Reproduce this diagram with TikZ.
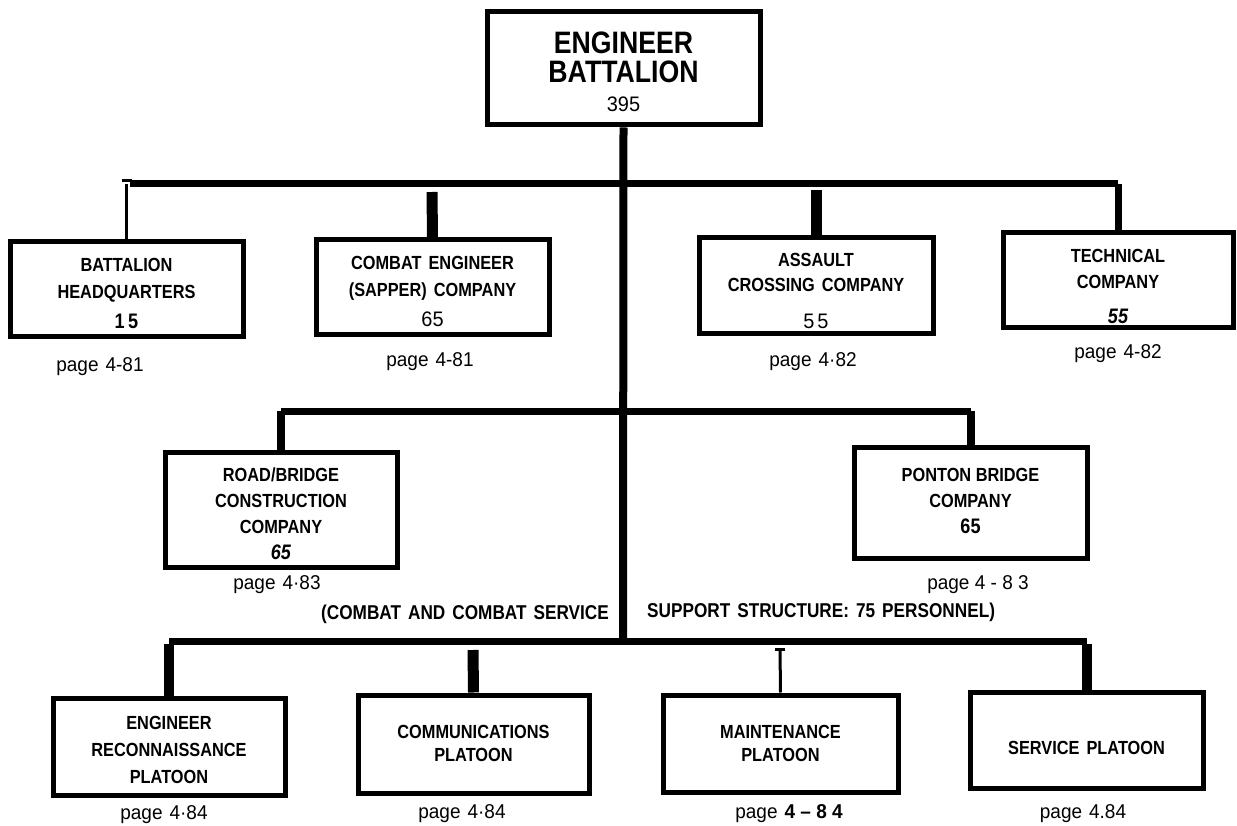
\documentclass[tikz,border=0pt]{standalone}
\usepackage{fontspec}
\setmainfont{Liberation Sans}
\newfontfamily\bx[FakeStretch=0.86]{Liberation Sans}
\newfontfamily\pg[FakeStretch=0.95]{Liberation Sans}
\tikzset{
  orgbox/.style={draw, line width=5pt, inner sep=0pt},
  boxtxt/.style={inner sep=0pt, align=center, font=\bx\bfseries\fontsize{19}{27}\selectfont},
  toptxt/.style={inner sep=0pt, align=center, font=\bx\bfseries\fontsize{31}{29}\selectfont},
  pagelbl/.style={inner sep=0pt, anchor=base, font=\pg\fontsize{20}{22}\selectfont},
  captxt/.style={inner sep=0pt, anchor=base, font=\bx\bfseries\fontsize{20}{24}\selectfont},
  bus/.style={line width=7pt},
  mainstem/.style={line width=8pt},
  drop/.style={line width=8pt},
  thickstem/.style={line width=11pt},
  thinstem/.style={line width=3pt},
  serif/.style={line width=3pt},
}
\newcommand\wsp{\hspace{7pt}}
\begin{document}
\begin{tikzpicture}[x=1pt,y=-1pt]
\path[use as bounding box] (0,0) rectangle (1237,826);

% boxes
\node[orgbox, minimum width=273, minimum height=113] (eb) at (623.5,68.5) {};
\node[orgbox, minimum width=233, minimum height=95] (bhq) at (126.5,289.5) {};
\node[orgbox, minimum width=233, minimum height=95] (ce) at (432.5,287.5) {};
\node[orgbox, minimum width=234, minimum height=96] (ac) at (816,286) {};
\node[orgbox, minimum width=230, minimum height=95] (tc) at (1118,280.5) {};
\node[orgbox, minimum width=232, minimum height=115] (rb) at (281,509.5) {};
\node[orgbox, minimum width=233, minimum height=111] (pb) at (970.5,502.5) {};
\node[orgbox, minimum width=232, minimum height=97] (er) at (169,746.5) {};
\node[orgbox, minimum width=231, minimum height=98] (cm) at (473.5,744) {};
\node[orgbox, minimum width=235, minimum height=97] (mt) at (780.5,743.5) {};
\node[orgbox, minimum width=233, minimum height=96] (sv) at (1086.5,740) {};

% box texts
\node[toptxt] (eb-t) at (623.5,72) {ENGINEER\\BATTALION\\\mdseries\pg\fontsize{21}{29}\selectfont 395};
\node[boxtxt] (bhq-t) at (126.5,293.5) {BATTALION\\HEADQUARTERS\\[3pt]\fontsize{21}{27}\selectfont 1\,5};
\node[boxtxt] (ce-t) at (432.5,291.5) {COMBAT\wsp ENGINEER\\(SAPPER)\wsp COMPANY\\[3pt]\mdseries\pg\fontsize{21}{27}\selectfont 65};
\node[boxtxt, font=\bx\bfseries\fontsize{19}{25}\selectfont] (ac-t) at (816,291.3) {ASSAULT\\CROSSING\wsp COMPANY\\[12pt]\mdseries\pg\fontsize{21}{25}\selectfont 5\kern3pt 5};
\node[boxtxt, font=\bx\bfseries\fontsize{19}{26}\selectfont] (tc-t) at (1118,286.9) {TECHNICAL\\COMPANY\\[9pt]\itshape\fontsize{21}{26}\selectfont 55};
\node[boxtxt, font=\bx\bfseries\fontsize{19}{26}\selectfont] (rb-t) at (281,513.5) {ROAD/BRIDGE\\CONSTRUCTION\\COMPANY\\\itshape\fontsize{21}{26}\selectfont 65};
\node[boxtxt, font=\bx\bfseries\fontsize{19}{26}\selectfont] (pb-t) at (970.5,501) {PONTON BRIDGE\\COMPANY\\\fontsize{21}{26}\selectfont 65};
\node[boxtxt] (er-t) at (169,750) {ENGINEER\\RECONNAISSANCE\\PLATOON};
\node[boxtxt, font=\bx\bfseries\fontsize{19}{23}\selectfont] (cm-t) at (473.5,743.5) {COMMUNICATIONS\\PLATOON};
\node[boxtxt, font=\bx\bfseries\fontsize{19}{23}\selectfont] (mt-t) at (780.5,743.5) {MAINTENANCE\\PLATOON};
\node[boxtxt] (sv-t) at (1086.5,748) {SERVICE\wsp PLATOON};

% page labels
\node[pagelbl] (bhq-p) at (100,371.8) {page\wsp 4-81};
\node[pagelbl] (ce-p) at (430,366.8) {page\wsp 4-81};
\node[pagelbl] (ac-p) at (813,366.8) {page\wsp 4·82};
\node[pagelbl] (tc-p) at (1118,359) {page\wsp 4-82};
\node[pagelbl] (rb-p) at (277,589.8) {page\wsp 4·83};
\node[pagelbl] (pb-p) at (978,589.8) {page 4 - 8 3};
\node[pagelbl] (er-p) at (164,819.8) {page\wsp 4·84};
\node[pagelbl] (cm-p) at (462,818.8) {page\wsp 4·84};
\node[pagelbl] (mt-p) at (789,818.8) {page\wsp\textbf{4 – 8 4}};
\node[pagelbl] (sv-p) at (1083,818.8) {page\wsp 4.84};

% caption
\node[captxt, anchor=base east] (cap1) at (609,619) {(COMBAT\wsp AND\wsp COMBAT\wsp SERVICE};
\node[captxt, anchor=base west] (cap2) at (647,617) {SUPPORT\wsp STRUCTURE:\wsp 75\wsp PERSONNEL)};

% named bus points
\coordinate (busTop) at (623,184);
\coordinate (busMid) at (623,411);
\coordinate (busBot) at (623,641);
\coordinate (ceTop) at (432,192);
\coordinate (acTop) at (816,190);
\coordinate (cmTop) at (473,650);
\coordinate (mtTop) at (780,649);

% connectors
\draw[mainstem] (eb.south) -- (busBot);
\draw[bus] ([xshift=3pt]bhq.north |- busTop) -- (tc.north |- busTop);
\draw[drop, line width=7pt] (tc.north |- busTop) -- (tc.north);
\draw[thinstem] (bhq.north |- busTop) -- (bhq.north);
\draw[serif] ([xshift=-5pt]bhq.north |- busTop) ++(0,-3) -- ++(10,0);
\draw[thickstem] (ceTop) -- (ce.north);
\draw[thickstem] (acTop) -- (ac.north);

\draw[bus] (rb.north |- busMid) -- (pb.north |- busMid);
\draw[drop] (rb.north |- busMid) -- (rb.north);
\draw[drop] (pb.north |- busMid) -- (pb.north);

\draw[bus] (er.north |- busBot) -- (sv.north |- busBot);
\draw[thickstem, line width=10pt] ([yshift=-3pt]er.north |- busBot) -- (er.north);
\draw[thickstem, line width=10pt] ([yshift=-3pt]sv.north |- busBot) -- (sv.north);
\draw[thickstem] (cmTop) -- (cm.north);
\draw[thinstem] (mtTop) -- (mt.north);
\draw[serif] ([xshift=-5pt]mtTop) -- ([xshift=5pt]mtTop);
\end{tikzpicture}
\end{document}
